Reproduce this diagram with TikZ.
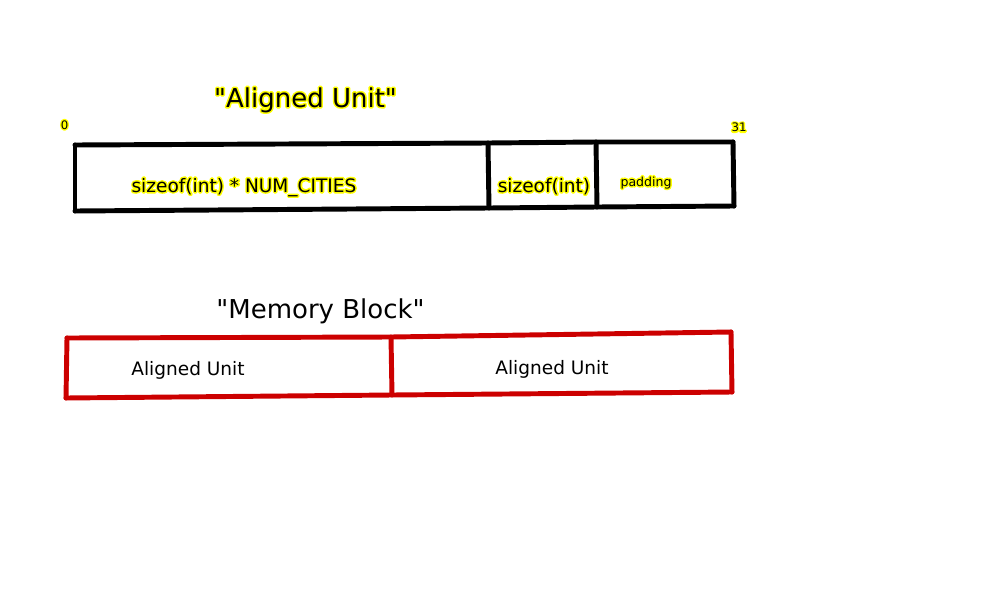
\documentclass[tikz,border=0pt]{standalone}
\usepackage{fontspec}
\setmainfont{DejaVu Sans}
\definecolor{hly}{RGB}{255,255,0}
\definecolor{blockred}{RGB}{204,0,0}
\newcommand\hl[1]{\rlap{\special{pdf:literal direct 1 Tr 2.3 w 1 j 1 J 1 1 0 RG}#1\special{pdf:literal direct 0 Tr 0 0 0 RG}}#1}
\begin{document}
\begin{tikzpicture}[x=0.75pt,y=-0.75pt,
  unitline/.style={draw=black,line width=3.7pt,line cap=round,line join=round},
  blockline/.style={draw=blockred,line width=3.7pt,line cap=round,line join=round},
  lbl/.style={inner sep=0pt,anchor=base,text=black},
  title/.style={lbl,font=\fontsize{19.5}{23}\selectfont},
  field/.style={lbl,font=\fontsize{13.9}{17}\selectfont},
  small/.style={lbl,font=\fontsize{9.4}{11}\selectfont},
  tiny/.style={lbl,font=\fontsize{8.8}{10}\selectfont}]
\useasboundingbox (0,0) rectangle (1000,600);
% Aligned unit (black)
\coordinate (ua) at (75,145);
\coordinate (ub) at (488,143);
\coordinate (uc) at (596,142);
\coordinate (ud) at (733,142);
\coordinate (ue) at (75,211);
\coordinate (uf) at (489,208);
\coordinate (ug) at (597,207);
\coordinate (uh) at (734,206);
\draw[unitline] (ua) -- (ub) -- (uc) -- (ud);
\draw[unitline] (ue) -- (uf) -- (ug) -- (uh);
\draw[unitline] (ua) -- (ue);
\draw[unitline] (ub) -- (uf);
\draw[unitline] (uc) -- (ug);
\draw[unitline] (ud) -- (uh);
% Memory block (red)
\coordinate (ma) at (67,338);
\coordinate (mb) at (391,337);
\coordinate (mc) at (731,332);
\coordinate (md) at (66,398);
\coordinate (me) at (392,395);
\coordinate (mf) at (732,392);
\draw[blockline] (ma) -- (mb) -- (mc);
\draw[blockline] (md) -- (me) -- (mf);
\draw[blockline] (ma) -- (md);
\draw[blockline] (mb) -- (me);
\draw[blockline] (mc) -- (mf);
% labels
\node[title] (t1) at (305.5,107) {\hl{\textquotedbl Aligned Unit\textquotedbl}};
\node[tiny] (z0) at (64.5,129) {\hl{0}};
\node[tiny] (z31) at (739,131.5) {\hl{31}};
\node[field] (f1) at (244,192) {\hl{sizeof(int) * NUM\_CITIES}};
\node[field] (f2) at (544,192) {\hl{sizeof(int)}};
\node[small] (f3) at (646,186) {\hl{padding}};
\node[title] (t2) at (320.5,318) {\textquotedbl Memory Block\textquotedbl};
\node[field] (a1) at (188,375) {Aligned Unit};
\node[field] (a2) at (552,374) {Aligned Unit};
\end{tikzpicture}
\end{document}
